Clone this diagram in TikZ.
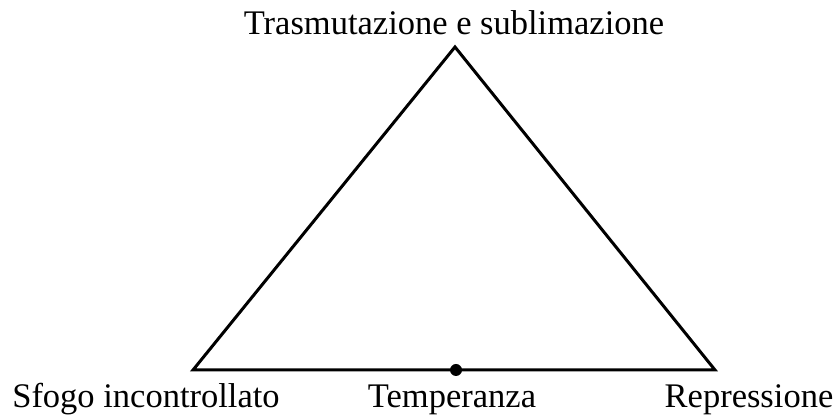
\documentclass[tikz,border=0pt]{standalone}
\usepackage{fontspec}
\setmainfont{Liberation Serif}
\begin{document}
\begin{tikzpicture}[x=1pt,y=1pt,
  lbl/.style={anchor=base,inner sep=0pt,font=\fontsize{34.5}{38}\selectfont},
  side/.style={line width=3pt,line join=miter},
  dotmark/.style={circle,fill=black,inner sep=0pt,minimum size=12pt}]
\useasboundingbox (0,0) rectangle (839,420);
\coordinate (top) at (455,373);
\coordinate (left) at (193,50);
\coordinate (right) at (715,50);
\draw[side] (left) -- (top) -- (right) -- cycle;
\node[dotmark] (dot) at (456,50) {};
\node[lbl] (ttop) at (454,385) {Trasmutazione e sublimazione};
\node[lbl] (tleft) at (146,12) {Sfogo incontrollato};
\node[lbl] (tmid) at (452,12) {Temperanza};
\node[lbl] (tright) at (749,12) {Repressione};
\end{tikzpicture}
\end{document}
